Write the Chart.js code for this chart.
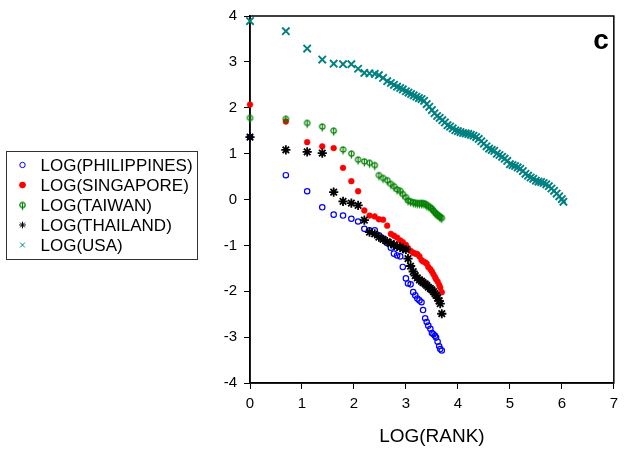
<!DOCTYPE html>
<html>
<head>
<meta charset="utf-8">
<script src="https://cdn.jsdelivr.net/npm/chart.js@4/dist/chart.umd.min.js"></script>
<style>
  html, body { margin: 0; padding: 0; background: #fff; }
</style>
</head>
<body>
<canvas id="chart" width="624" height="454"></canvas>
<script>
// log(rank) positions for the 40-point series
const logRank = [0, 0.69, 1.10, 1.39, 1.61, 1.79, 1.95, 2.08, 2.20, 2.30,
  2.40, 2.48, 2.56, 2.64, 2.71, 2.77, 2.83, 2.89, 2.94, 3.00,
  3.04, 3.09, 3.14, 3.18, 3.22, 3.26, 3.30, 3.33, 3.37, 3.40,
  3.43, 3.47, 3.50, 3.53, 3.56, 3.58, 3.61, 3.64, 3.66, 3.69];

const philippines = [1.36, 0.53, 0.18, -0.17, -0.33, -0.35, -0.42, -0.48, -0.64, -0.67,
  -0.67, -0.78, -0.85, -0.95, -1.05, -1.18, -1.22, -1.24, -1.47, -1.72,
  -1.83, -1.85, -2.02, -2.09, -2.16, -2.20, -2.24, -2.41, -2.59, -2.67,
  -2.75, -2.82, -2.91, -2.94, -2.97, -3.01, -3.10, -3.20, -3.26, -3.29];

const singapore = [2.07, 1.70, 1.25, 1.16, 1.12, 0.69, 0.40, 0.18, -0.24, -0.35,
  -0.37, -0.43, -0.44, -0.57, -0.75, -0.79, -0.83, -0.89, -0.93, -0.99,
  -1.06, -1.12, -1.16, -1.18, -1.19, -1.24, -1.32, -1.35, -1.37, -1.40,
  -1.47, -1.52, -1.57, -1.63, -1.69, -1.74, -1.79, -1.86, -1.92, -2.02];

const taiwan = [1.78, 1.76, 1.67, 1.59, 1.50, 1.09, 1.00, 0.87, 0.83, 0.80,
  0.75, 0.53, 0.47, 0.42, 0.34, 0.29, 0.22, 0.19, 0.12, 0.05,
  -0.02, -0.04, -0.06, -0.07, -0.08, -0.08, -0.08, -0.08, -0.09, -0.12,
  -0.14, -0.17, -0.20, -0.24, -0.28, -0.31, -0.33, -0.36, -0.38, -0.40];

const thailand = [1.36, 1.08, 1.04, 1.01, 0.16, -0.04, -0.08, -0.13, -0.45, -0.71,
  -0.75, -0.82, -0.87, -0.92, -0.96, -0.99, -1.02, -1.04, -1.07, -1.09,
  -1.29, -1.45, -1.57, -1.66, -1.71, -1.75, -1.78, -1.81, -1.84, -1.87,
  -1.91, -1.94, -1.97, -2.01, -2.05, -2.09, -2.15, -2.21, -2.27, -2.49];

// USA has many more ranks; read along the band
const usaX = [0, 0.69, 1.10, 1.39, 1.61, 1.79, 1.95, 2.08, 2.20, 2.30,
  2.40, 2.48, 2.56, 2.64, 2.71, 2.77, 2.83, 2.89, 2.94, 3.00,
  3.05, 3.10, 3.15, 3.20, 3.25, 3.30, 3.35, 3.40, 3.45, 3.50,
  3.55, 3.60, 3.65, 3.70, 3.75, 3.80, 3.85, 3.90, 3.95, 4.00,
  4.05, 4.10, 4.15, 4.20, 4.25, 4.30, 4.35, 4.40, 4.45, 4.50,
  4.55, 4.60, 4.65, 4.70, 4.75, 4.80, 4.85, 4.90, 4.95, 5.00,
  5.05, 5.10, 5.15, 5.20, 5.25, 5.30, 5.35, 5.40, 5.45, 5.50,
  5.55, 5.60, 5.65, 5.70, 5.75, 5.80, 5.85, 5.90, 5.95, 6.00, 6.03];
const usaY = [3.89, 3.67, 3.29, 3.05, 2.96, 2.95, 2.95, 2.85, 2.76, 2.75,
  2.74, 2.71, 2.65, 2.58, 2.54, 2.50, 2.46, 2.43, 2.40, 2.36,
  2.33, 2.30, 2.27, 2.24, 2.21, 2.19, 2.15, 2.08, 2.02, 1.95,
  1.88, 1.82, 1.78, 1.73, 1.68, 1.62, 1.59, 1.55, 1.51, 1.49,
  1.47, 1.45, 1.44, 1.43, 1.41, 1.39, 1.36, 1.32, 1.27, 1.22,
  1.16, 1.11, 1.08, 1.06, 1.00, 0.97, 0.93, 0.89, 0.84, 0.77,
  0.75, 0.73, 0.70, 0.67, 0.62, 0.56, 0.52, 0.48, 0.45, 0.41,
  0.39, 0.38, 0.36, 0.33, 0.29, 0.24, 0.19, 0.13, 0.07, 0.01, -0.05];

const seriesNames = ['LOG(PHILIPPINES)', 'LOG(SINGAPORE)', 'LOG(TAIWAN)', 'LOG(THAILAND)', 'LOG(USA)'];
const xTicks = [0, 1, 2, 3, 4, 5, 6, 7];
const yTicks = [-4, -3, -2, -1, 0, 1, 2, 3, 4];

const FONT = '"Liberation Sans", Arial, sans-serif';

function pts(xs, ys) {
  return ys.map((y, i) => ({ x: xs[i], y: y }));
}

// green "phi" marker: small open circle with a stem
function taiwanMarker() {
  const c = document.createElement('canvas');
  c.width = 9; c.height = 13;
  const g = c.getContext('2d');
  g.strokeStyle = '#008000';
  g.lineWidth = 1.2;
  g.beginPath(); g.arc(4.5, 6.5, 2.7, 0, Math.PI * 2); g.stroke();
  g.beginPath(); g.moveTo(4.5, 4); g.lineTo(4.5, 11.5); g.stroke();
  return c;
}
const twImg = taiwanMarker();

const datasets = [
  { label: seriesNames[0], data: pts(logRank, philippines), pointStyle: 'circle', pointRadius: 2.7,
    borderColor: '#0000ff', backgroundColor: 'rgba(0,0,0,0)', borderWidth: 1.2, order: 5 },
  { label: seriesNames[1], data: pts(logRank, singapore), pointStyle: 'circle', pointRadius: 2.9,
    borderColor: '#ff0000', backgroundColor: '#ff0000', borderWidth: 0.5, order: 4 },
  { label: seriesNames[2], data: pts(logRank, taiwan), pointStyle: twImg, pointRadius: 4,
    borderColor: '#008000', backgroundColor: '#008000', borderWidth: 1, order: 3 },
  { label: seriesNames[3], data: pts(logRank, thailand), pointStyle: 'star', pointRadius: 4.6,
    borderColor: '#000000', backgroundColor: '#000000', borderWidth: 1.8, order: 2 },
  { label: seriesNames[4], data: pts(usaX, usaY), pointStyle: 'crossRot', pointRadius: 5.2,
    borderColor: '#008080', backgroundColor: '#008080', borderWidth: 1.9, order: 1 }
];
datasets.forEach(d => { d.clip = false; d.pointHoverRadius = d.pointRadius; });

// frame, legend box and panel letter
const extras = {
  id: 'extras',
  beforeDatasetsDraw(chart) {
    const a = chart.chartArea, ctx = chart.ctx;
    ctx.save();
    ctx.strokeStyle = '#000';
    ctx.lineWidth = 1.5;
    ctx.strokeRect(a.left, a.top, a.right - a.left, a.bottom - a.top);
    ctx.restore();
  },
  afterDraw(chart) {
    const ctx = chart.ctx;
    ctx.save();
    ctx.strokeStyle = '#333';
    ctx.lineWidth = 1;
    ctx.strokeRect(6.5, 151.5, 191, 108);
    ctx.font = '17px ' + FONT;
    ctx.fillStyle = '#000';
    ctx.textBaseline = 'middle';
    ctx.textAlign = 'left';
    datasets.forEach((d, i) => {
      const y = 165 + i * 20;
      ctx.fillStyle = d.backgroundColor;
      ctx.strokeStyle = d.borderColor;
      Chart.helpers.drawPoint(ctx, {
        pointStyle: d.pointStyle, radius: Math.min(d.pointRadius, 3.4), rotation: 0,
        borderWidth: Math.min(d.borderWidth, 1.2)
      }, 22.5, y);
      ctx.fillStyle = '#000';
      ctx.fillText(d.label, 40.5, y + 1);
    });
    ctx.font = 'bold 28px ' + FONT;
    ctx.textAlign = 'center';
    ctx.fillText('c', 601, 41);
    ctx.restore();
  }
};

new Chart(document.getElementById('chart').getContext('2d'), {
  type: 'scatter',
  data: { datasets: datasets },
  options: {
    responsive: false,
    animation: false,
    layout: { padding: { left: 210, right: 6, top: 16, bottom: 0 } },
    plugins: { legend: { display: false }, tooltip: { enabled: false } },
    scales: {
      x: {
        type: 'linear', min: 0, max: 7,
        afterBuildTicks: s => { s.ticks = xTicks.map(v => ({ value: v })); },
        afterFit: s => { s.height = 71; },
        ticks: { color: '#000', font: { size: 15, family: FONT }, padding: 6 },
        grid: { drawOnChartArea: false, drawTicks: true, tickLength: 6, color: '#000', lineWidth: 1 },
        border: { display: true, color: '#000', width: 1.5 },
        title: { display: true, text: 'LOG(RANK)', color: '#000',
          font: { size: 19, family: FONT }, padding: { top: 0, bottom: 6 } }
      },
      y: {
        type: 'linear', min: -4, max: 4,
        afterBuildTicks: s => { s.ticks = yTicks.map(v => ({ value: v })); },
        afterFit: s => { s.width = 40; },
        ticks: { color: '#000', font: { size: 15, family: FONT }, padding: 7 },
        grid: { drawOnChartArea: false, drawTicks: true, tickLength: 6, color: '#000', lineWidth: 1 },
        border: { display: true, color: '#000', width: 1.5 }
      }
    }
  },
  plugins: [extras]
});
</script>
</body>
</html>
